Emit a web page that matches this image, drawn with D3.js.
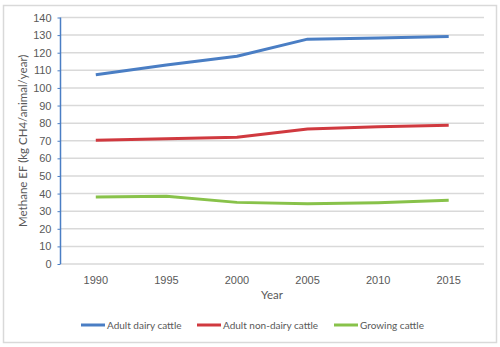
<!DOCTYPE html>
<html>
<head>
<meta charset="utf-8">
<script src="https://cdn.jsdelivr.net/npm/d3@7"></script>
<style>
  body { margin: 0; background: #fff; }
  svg { font-family: Lato, "Open Sans", sans-serif; }
</style>
</head>
<body>
<div id="chart"></div>
<script>
var years = ["1990", "1995", "2000", "2005", "2010", "2015"];
var dairy = [107.5, 113, 118, 127.7, 128.4, 129.2];
var nonDairy = [70.3, 71.2, 72, 76.7, 77.9, 78.8];
var growing = [38, 38.5, 35, 34.2, 34.8, 36.2];
var yTicks = [0, 10, 20, 30, 40, 50, 60, 70, 80, 90, 100, 110, 120, 130, 140];

var series = [
    {name: "Adult dairy cattle", values: dairy, color: "#4a7ec4"},
    {name: "Adult non-dairy cattle", values: nonDairy, color: "#d0393f"},
    {name: "Growing cattle", values: growing, color: "#88c24a"}
];

var width = 500, height = 347;
var plotLeft = 60.5, plotRight = 484, plotTop = 17.5, plotBottom = 264;

var svg = d3.select("#chart").append("svg")
    .attr("width", width)
    .attr("height", height);

svg.append("rect")
    .attr("x", 3.5).attr("y", 5.5)
    .attr("width", 493).attr("height", 337)
    .attr("fill", "#fff")
    .attr("stroke", "#d9d9d9")
    .attr("stroke-width", 1.5);

var x = d3.scaleBand().domain(years).range([plotLeft, plotRight]);
var y = d3.scaleLinear().domain([0, 140]).range([plotBottom, plotTop]);

// gridlines
svg.append("g")
    .selectAll("line")
    .data(yTicks)
    .enter().append("line")
    .attr("x1", plotLeft).attr("x2", plotRight)
    .attr("y1", d => y(d)).attr("y2", d => y(d))
    .attr("stroke", "#d9d9d9")
    .attr("stroke-width", 1.5);

// y axis
var yAxis = svg.append("g")
    .attr("transform", "translate(" + plotLeft + ",0)")
    .call(d3.axisLeft(y).tickValues(yTicks).tickSize(3).tickPadding(6));
yAxis.select(".domain").attr("stroke", "#4a7ec4").attr("stroke-width", 1.5)
    .attr("d", "M0," + y(0) + "V" + y(140));
yAxis.selectAll(".tick line").attr("stroke", "#4a7ec4");
yAxis.selectAll("text").attr("fill", "#595959").style("font-size", "11px");

// x labels
var xAxis = svg.append("g")
    .attr("transform", "translate(0," + plotBottom + ")")
    .call(d3.axisBottom(x).tickSize(0).tickPadding(12));
xAxis.select(".domain").remove();
xAxis.selectAll("text").attr("fill", "#595959").style("font-size", "11px");

// axis titles
svg.append("text")
    .attr("transform", "translate(27," + (plotTop + plotBottom) / 2 + ") rotate(-90)")
    .attr("text-anchor", "middle")
    .attr("fill", "#595959")
    .style("font-size", "11.5px")
    .text("Methane EF (kg CH4/animal/year)");

svg.append("text")
    .attr("x", 272).attr("y", 299)
    .attr("text-anchor", "middle")
    .attr("fill", "#595959")
    .style("font-size", "11.5px")
    .text("Year");

// lines
var line = d3.line()
    .x((d, i) => x(years[i]) + x.bandwidth() / 2)
    .y(d => y(d));

svg.append("g")
    .selectAll("path")
    .data(series)
    .enter().append("path")
    .attr("d", d => line(d.values))
    .attr("fill", "none")
    .attr("stroke", d => d.color)
    .attr("stroke-width", 3)
    .attr("stroke-linejoin", "round");

// legend
var legendX = [81, 197, 334];
var legend = svg.append("g")
    .selectAll("g")
    .data(series)
    .enter().append("g")
    .attr("transform", (d, i) => "translate(" + legendX[i] + ",325)");
legend.append("line")
    .attr("x1", 0).attr("x2", 24)
    .attr("stroke", d => d.color)
    .attr("stroke-width", 3);
legend.append("text")
    .attr("x", 26).attr("y", 4)
    .attr("fill", "#595959")
    .style("font-size", "10px")
    .text(d => d.name);
</script>
</body>
</html>
